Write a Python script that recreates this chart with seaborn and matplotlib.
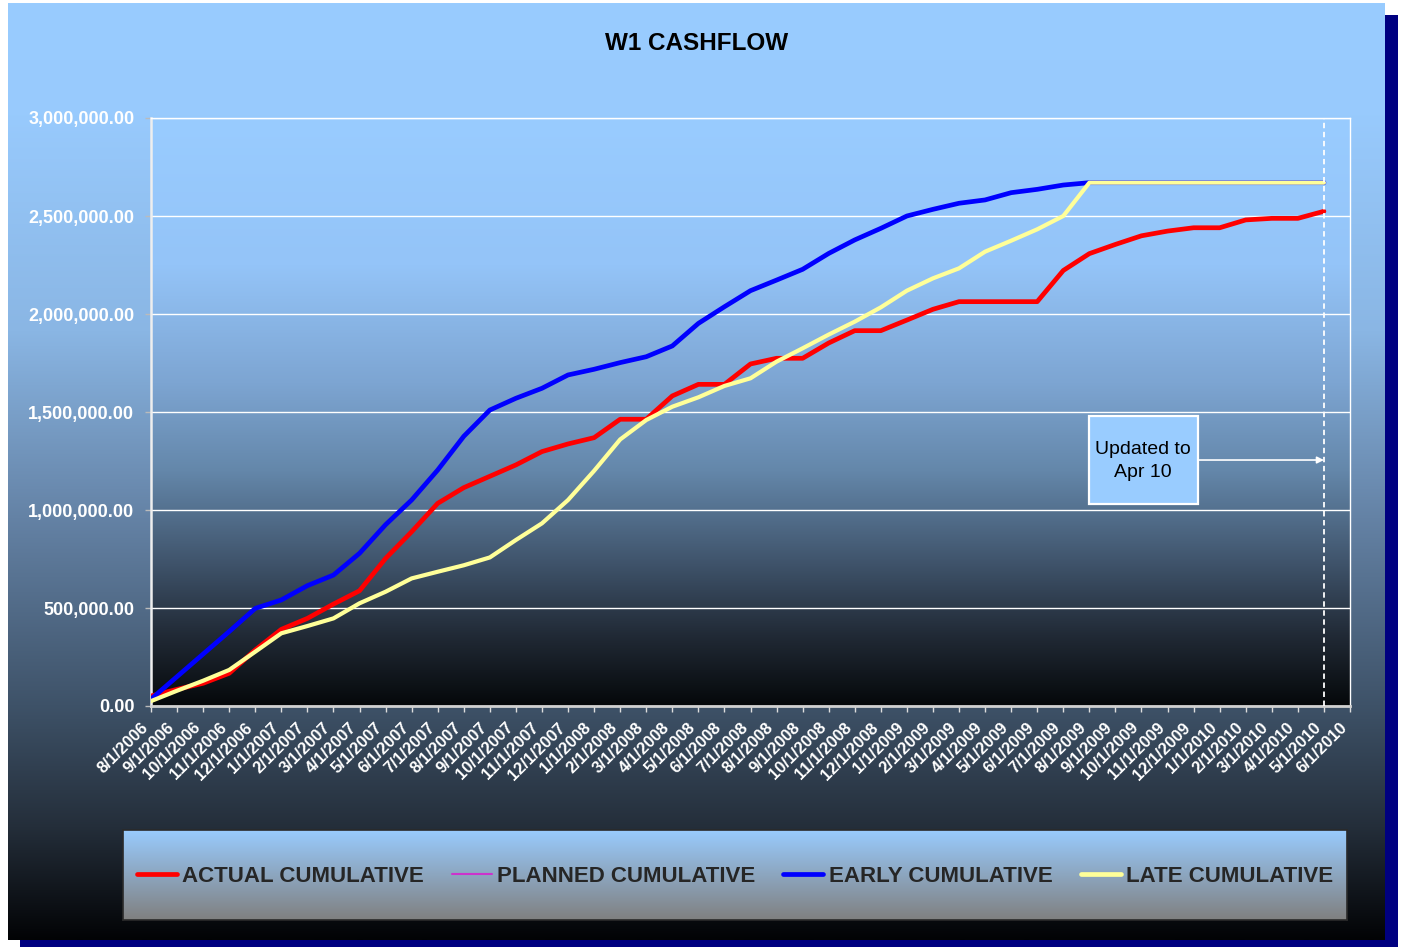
import numpy as np
import pandas as pd
import matplotlib
matplotlib.use("Agg")
import matplotlib.pyplot as plt
import seaborn as sns
from matplotlib.patches import Rectangle
from matplotlib.lines import Line2D
from matplotlib.ticker import FuncFormatter

# ---------------- data ----------------
months = ["8/1/2006", "9/1/2006", "10/1/2006", "11/1/2006", "12/1/2006",
          "1/1/2007", "2/1/2007", "3/1/2007", "4/1/2007", "5/1/2007", "6/1/2007",
          "7/1/2007", "8/1/2007", "9/1/2007", "10/1/2007", "11/1/2007", "12/1/2007",
          "1/1/2008", "2/1/2008", "3/1/2008", "4/1/2008", "5/1/2008", "6/1/2008",
          "7/1/2008", "8/1/2008", "9/1/2008", "10/1/2008", "11/1/2008", "12/1/2008",
          "1/1/2009", "2/1/2009", "3/1/2009", "4/1/2009", "5/1/2009", "6/1/2009",
          "7/1/2009", "8/1/2009", "9/1/2009", "10/1/2009", "11/1/2009", "12/1/2009",
          "1/1/2010", "2/1/2010", "3/1/2010", "4/1/2010", "5/1/2010", "6/1/2010"]

actual_cumulative = [51000, 85000, 116000, 167000, 286000, 391000, 447000, 520000,
                     588000, 753000, 889000, 1034000, 1114000, 1172000, 1230000,
                     1298000, 1337000, 1369000, 1463000, 1463000, 1582000, 1641000,
                     1641000, 1745000, 1774000, 1774000, 1852000, 1915000, 1915000,
                     1969000, 2024000, 2063000, 2063000, 2063000, 2063000, 2222000,
                     2308000, 2355000, 2399000, 2423000, 2440000, 2440000, 2480000,
                     2488000, 2488000, 2524000]

planned_cumulative = []

early_cumulative = [35000, 150000, 265000, 380000, 498000, 541000, 614000, 668000,
                    779000, 925000, 1051000, 1204000, 1376000, 1510000, 1570000,
                    1621000, 1689000, 1718000, 1752000, 1782000, 1837000, 1952000,
                    2037000, 2119000, 2173000, 2228000, 2309000, 2378000, 2437000,
                    2500000, 2534000, 2565000, 2582000, 2619000, 2636000, 2658000,
                    2670000, 2670000, 2670000, 2670000, 2670000, 2670000, 2670000,
                    2670000, 2670000, 2670000]

late_cumulative = [25000, 78000, 129000, 184000, 277000, 371000, 408000, 447000,
                   524000, 583000, 651000, 685000, 718000, 758000, 847000, 932000,
                   1051000, 1200000, 1360000, 1459000, 1527000, 1575000, 1633000,
                   1672000, 1757000, 1825000, 1895000, 1961000, 2034000, 2119000,
                   2182000, 2233000, 2318000, 2374000, 2432000, 2500000, 2670000,
                   2670000, 2670000, 2670000, 2670000, 2670000, 2670000, 2670000,
                   2670000, 2670000]

series_names = ["ACTUAL CUMULATIVE", "PLANNED CUMULATIVE", "EARLY CUMULATIVE", "LATE CUMULATIVE"]
series_colors = ["#FF0000", "#CC33CC", "#0000FF", "#FFFF99"]
title_text = "W1 CASHFLOW"
note_text = "Updated to\nApr 10"
y_ticks = [0, 500000, 1000000, 1500000, 2000000, 2500000, 3000000]

# ---------------- style ----------------
sns.set_style("white")
plt.rcParams["font.family"] = ["Liberation Sans", "DejaVu Sans"]

W, H = 1402, 949
fig = plt.figure(figsize=(W / 100, H / 100), dpi=100)
fig.patch.set_facecolor("white")


def vgrad(stops, n=600):
    pos = np.array([s[0] for s in stops])
    cols = np.array([s[1] for s in stops], dtype=float) / 255.0
    t = np.linspace(0, 1, n)
    arr = np.stack([np.interp(t, pos, cols[:, k]) for k in range(3)], axis=-1)
    return arr[:, None, :]


# background (chart area + navy shadow)
ax_bg = fig.add_axes([0, 0, 1, 1])
ax_bg.set_xlim(0, W)
ax_bg.set_ylim(H, 0)
ax_bg.axis("off")
ax_bg.add_patch(Rectangle((20, 15), 1378, 932, facecolor="#000080", edgecolor="none", zorder=0))
chart_grad = vgrad([(0.0, (153, 204, 255)), (0.12, (152, 202, 253)), (0.35, (138, 182, 228)),
                    (0.55, (100, 130, 165)), (0.75, (62, 82, 104)), (0.88, (36, 46, 58)),
                    (1.0, (2, 3, 5))])
ax_bg.imshow(chart_grad, extent=(8, 1385, 940, 3), aspect="auto", zorder=1, interpolation="bilinear")
ax_bg.set_xlim(0, W)
ax_bg.set_ylim(H, 0)

# main plot area
ax = fig.add_axes([151 / W, 1 - 706 / H, 1199 / W, 588 / H])
ax.patch.set_visible(False)
plot_grad = vgrad([(0.0, (153, 204, 255)), (0.25, (148, 196, 248)), (0.45, (125, 165, 210)),
                   (0.6, (100, 135, 170)), (0.75, (65, 86, 110)), (0.88, (33, 42, 54)),
                   (1.0, (5, 8, 10))])
ax.imshow(plot_grad, extent=(0, 1, 0, 1), transform=ax.transAxes, aspect="auto",
          zorder=0.1, interpolation="bilinear")

frames = []
for name, vals in zip(series_names, [actual_cumulative, planned_cumulative,
                                     early_cumulative, late_cumulative]):
    frames.append(pd.DataFrame({"idx": np.arange(len(vals)), "value": vals, "series": name}))
df = pd.concat(frames, ignore_index=True)

widths = {"ACTUAL CUMULATIVE": 3.4, "PLANNED CUMULATIVE": 1.5,
          "EARLY CUMULATIVE": 3.4, "LATE CUMULATIVE": 3.0}
for name, color in zip(series_names, series_colors):
    sub = df[df["series"] == name]
    if len(sub) == 0:
        continue
    sns.lineplot(data=sub, x="idx", y="value", color=color, linewidth=widths[name],
                 ax=ax, legend=False, sort=False, zorder=3)

ax.set_xlim(0, len(months) - 1)
ax.set_ylim(0, 3000000)
ax.set_xlabel("")
ax.set_ylabel("")

ax.set_yticks(y_ticks)
ax.yaxis.set_major_formatter(FuncFormatter(lambda v, p: f"{v:,.2f}"))
ax.set_xticks(np.arange(len(months)))
ax.set_xticklabels(months, rotation=45, ha="right", fontsize=12, fontweight="bold", color="white")
for lab in ax.get_yticklabels():
    lab.set_fontsize(13)
    lab.set_fontweight("bold")
    lab.set_color("white")

ax.tick_params(axis="y", direction="out", length=4, width=1, color="#BBBBBB", pad=8, left=True)
ax.tick_params(axis="x", direction="out", length=4, width=1, color="#DDDDDD", pad=6, bottom=True)

ax.yaxis.grid(True, color="white", linewidth=1.0, zorder=0.5)
ax.xaxis.grid(False)
ax.set_axisbelow(True)
for side in ["top", "right"]:
    ax.spines[side].set_color("white")
    ax.spines[side].set_linewidth(1.0)
ax.spines["left"].set_color("#EEEEEE")
ax.spines["left"].set_linewidth(1.8)
ax.spines["bottom"].set_color("#D0D0D0")
ax.spines["bottom"].set_linewidth(2.0)

# update marker
last_idx = len(actual_cumulative) - 1
ax.axvline(last_idx, color="white", linestyle=(0, (3, 2)), linewidth=1.3, zorder=4)
ax.add_patch(Rectangle((35.98, 1030600), 4.18, 449000, facecolor="#99CCFF",
                       edgecolor="white", linewidth=1.6, zorder=5))
ax.text(38.07, 1250000, note_text, ha="center", va="center", fontsize=14,
        color="black", linespacing=1.45, zorder=6)
ax.annotate("", xy=(last_idx, 1255000), xytext=(40.16, 1255000),
            arrowprops=dict(arrowstyle="-|>", color="white", lw=1.2,
                            mutation_scale=10, shrinkA=0, shrinkB=0), zorder=6)

# title
fig.text(697 / W, 1 - 43 / H, title_text, ha="center", va="center", fontsize=17.5,
         fontweight="bold", color="black")

# legend box with gradient
ax_leg = fig.add_axes([123 / W, 1 - 920 / H, 1224 / W, 90 / H])
leg_grad = vgrad([(0.0, (153, 204, 255)), (1.0, (128, 128, 128))])
ax_leg.imshow(leg_grad, extent=(0, 1, 0, 1), aspect="auto", interpolation="bilinear")
ax_leg.set_xlim(0, 1)
ax_leg.set_ylim(0, 1)
ax_leg.set_xticks([])
ax_leg.set_yticks([])
for s in ax_leg.spines.values():
    s.set_color("#2a2a2a")
    s.set_linewidth(1.2)

handles = [Line2D([0], [0], color=series_colors[0], lw=3.4),
           Line2D([0], [0], color=series_colors[1], lw=1.5),
           Line2D([0], [0], color=series_colors[2], lw=3.4),
           Line2D([0], [0], color=series_colors[3], lw=3.4)]
fig.legend(handles, series_names, loc="center", bbox_to_anchor=(735 / W, 1 - 876 / H),
           ncol=4, frameon=False, handlelength=1.8, handletextpad=0.25,
           columnspacing=1.25, prop={"weight": "bold", "size": 16})

fig.savefig("out.png", dpi=100, facecolor=fig.get_facecolor())
